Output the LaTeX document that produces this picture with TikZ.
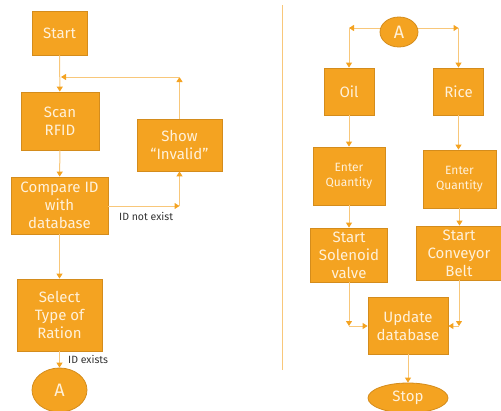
\documentclass[tikz,border=0pt]{standalone}
\usepackage{fontspec}
\setmainfont{Fira Sans}
\usetikzlibrary{arrows.meta,shapes.geometric}

\definecolor{boxfill}{HTML}{F4A321}
\definecolor{boxline}{HTML}{D48C1C}
\definecolor{boxtext}{HTML}{FFF1DA}
\definecolor{flowline}{HTML}{F8C77A}
\definecolor{flowtip}{HTML}{F4A321}
\definecolor{labeltext}{HTML}{333333}

\tikzset{
  stepbox/.style={draw=boxline, fill=boxfill, line width=0.8pt, text=boxtext,
    align=center, inner sep=0pt, font=\fontsize{15}{18}\selectfont},
  smallbox/.style={stepbox, font=\fontsize{12}{15}\selectfont},
  terminal/.style={ellipse, draw=boxline, fill=boxfill, line width=0.8pt, text=boxtext,
    inner sep=0pt, font=\fontsize{15}{18}\selectfont},
  flow/.style={draw=flowline, line width=1pt, -{Triangle[length=5pt,width=6pt,color=flowtip]}},
  edgelabel/.style={text=labeltext, font=\fontsize{10.5}{12}\selectfont, inner sep=0pt},
}

\begin{document}
\begin{tikzpicture}[x=1pt,y=-1pt]
			\useasboundingbox (0,0) rectangle (501,410);
			% left column
			\node[stepbox, minimum width=55pt, minimum height=44pt] (start) at (59.5,33) {Start};
			\node[stepbox, minimum width=78pt, minimum height=58pt] (scan) at (60,121) {Scan\\RFID};
			\node[stepbox, minimum width=85pt, minimum height=52pt] (invalid) at (179.5,145) {Show\\``Invalid''};
			\node[stepbox, minimum width=97pt, minimum height=57pt] (compare) at (59.5,205.5) {Compare ID\\with\\database};
			\node[stepbox, minimum width=85pt, minimum height=72pt] (select) at (59.5,315) {Select\\Type of\\Ration};
			\node[terminal, minimum width=55pt, minimum height=44pt, font=\fontsize{18}{20}\selectfont] (endA) at (59.5,390) {A};
			\coordinate (loopup) at (179.5,77);
			\coordinate (loopin) at (61,77);
			\coordinate (notexist) at (179.5,206);
			\draw[flow] (start) -- (scan);
			\draw[flow] (scan) -- (compare);
			\draw[flow] (compare.east |- notexist) -- (notexist);
			\draw[flow] (notexist) -- (invalid.south);
			\draw[flow] (invalid.north) -- (loopup);
			\draw[flow] (loopup) -- (loopin);
			\draw[flow] (compare) -- (select);
			\draw[flow] (select) -- (endA);
			\node[edgelabel, anchor=west] at (119,216) {ID not exist};
			\node[edgelabel, anchor=west] at (68,359) {ID exists};
			% divider
			\draw[flowline, line width=1pt] (282,5) -- (282,370);
			% right column
			\node[terminal, minimum width=38pt, minimum height=30pt, font=\fontsize{18}{20}\selectfont] (startA) at (399,32) {A};
			\node[stepbox, minimum width=50pt, minimum height=47pt] (oil) at (349,91.5) {Oil};
			\node[stepbox, minimum width=50pt, minimum height=47pt] (rice) at (458.5,91.5) {Rice};
			\node[smallbox, minimum width=72pt, minimum height=58pt] (qtyoil) at (349,176) {Enter\\Quantity};
			\node[smallbox, minimum width=73pt, minimum height=58pt] (qtyrice) at (459.5,179) {Enter\\Quantity};
			\node[stepbox, minimum width=77pt, minimum height=54pt] (valve) at (349,255) {Start\\Solenoid\\valve};
			\node[stepbox, minimum width=85pt, minimum height=54pt] (belt) at (459,253) {Start\\Conveyor\\Belt};
			\node[stepbox, minimum width=80pt, minimum height=57pt] (update) at (408,325.5) {Update\\database};
			\node[terminal, minimum width=80pt, minimum height=30pt] (stop) at (408,398) {Stop};
			\coordinate (toleft) at (349,28);
			\coordinate (toright) at (458.5,28);
			\coordinate (valvedown) at (349,326);
			\coordinate (beltdown) at (459,326);
			\draw[flow] (startA.west |- toleft) -- (toleft);
			\draw[flow] (toleft) -- (oil);
			\draw[flow] (startA.east |- toright) -- (toright);
			\draw[flow] (toright) -- (rice);
			\draw[flow] (oil) -- (qtyoil);
			\draw[flow] (rice) -- (rice.south |- qtyrice.north);
			\draw[flow] (qtyoil) -- (valve);
			\draw[flow] (qtyrice.south) -- (belt.north -| qtyrice.south);
			\draw[flow] (valve) -- (valvedown);
			\draw[flow] (valvedown) -- (update.west |- valvedown);
			\draw[flow] (belt) -- (beltdown);
			\draw[flow] (beltdown) -- (update.east |- beltdown);
			\draw[flow] (update) -- (stop);
		\end{tikzpicture}
\end{document}
